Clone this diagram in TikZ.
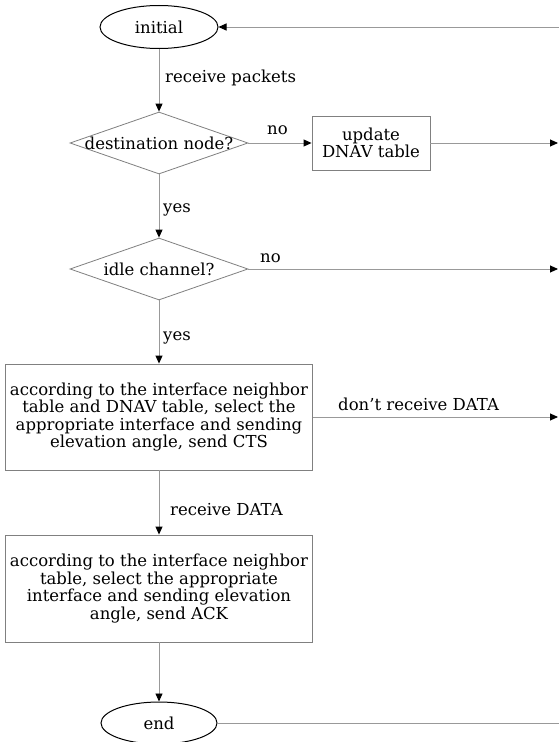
\documentclass[tikz,border=0pt]{standalone}
\usepackage{fontspec}
\setmainfont{DejaVu Serif}
\usetikzlibrary{shapes.geometric,arrows.meta}
\begin{document}
\begin{tikzpicture}[x=1bp,y=-1bp,
 every node/.style={font=\fontsize{16.5bp}{17.5bp}\selectfont},
 term/.style={ellipse,draw=black,line width=1bp,minimum width=118bp,minimum height=43bp,inner sep=0},
 dia/.style={diamond,draw=gray,line width=0.8bp,minimum width=178bp,minimum height=62bp,inner sep=0},
 proc/.style={rectangle,draw=gray,line width=0.9bp,align=center,inner sep=0},
 conn/.style={draw=gray!80,line width=0.9bp,-{Triangle[black,length=8bp,width=7bp]}},
 plainline/.style={draw=gray!80,line width=0.9bp},
 lab/.style={anchor=base west,inner sep=0}]
\useasboundingbox[fill=white] (0,0) rectangle (559,742);

\node[term] (init) at (159,27) {initial};
\node[dia] (d1) at (159,143) {};
\node (d1t) at (d1) {destination node?};
\node[proc,minimum width=118bp,minimum height=54bp] (upd) at (371,143) {update\\DNAV table};
\node[dia] (d2) at (159,269) {};
\node (d2t) at (d2) {idle channel?};
\node[proc,minimum width=307bp,minimum height=106bp] (b3) at (159,417)
  {according to the interface neighbor\\table and DNAV table, select the\\appropriate interface and sending\\elevation angle, send CTS};
\node[proc,minimum width=307bp,minimum height=107bp] (b4) at (159,588.5)
  {according to the interface neighbor\\table, select the appropriate\\interface and sending elevation\\angle, send ACK};
\node[term,minimum width=116bp,minimum height=42bp] (fin) at (159,723) {end};

\node[lab] (l1) at (165,82) {receive packets};
\node[lab] (l2) at (267,134) {no};
\node[lab] (l3) at (163,212) {yes};
\node[lab] (l4) at (260,262) {no};
\node[lab] (l5) at (163,340) {yes};
\node[lab] (l6) at (338,410) {don't receive DATA};
\node[lab] (l7) at (170,515) {receive DATA};

\coordinate (r0) at (559,27);
\coordinate (r1) at (558,143);
\coordinate (r2) at (558,269);
\coordinate (r3) at (558,417);
\coordinate (r4) at (559,723);

\draw[conn] (r0) -- (init.east);
\draw[conn] (init.south) -- (d1.north);
\draw[conn] (d1.east) -- (upd.west);
\draw[conn] (upd.east) -- (r1);
\draw[conn] (d1.south) -- (d2.north);
\draw[conn] (d2.east) -- (r2);
\draw[conn] (d2.south) -- (b3.north);
\draw[conn] (b3.east) -- (r3);
\draw[conn] (b3.south) -- (b4.north);
\draw[conn] (b4.south) -- (fin.north);
\draw[plainline] (fin.east) -- (r4);
\end{tikzpicture}
\end{document}
